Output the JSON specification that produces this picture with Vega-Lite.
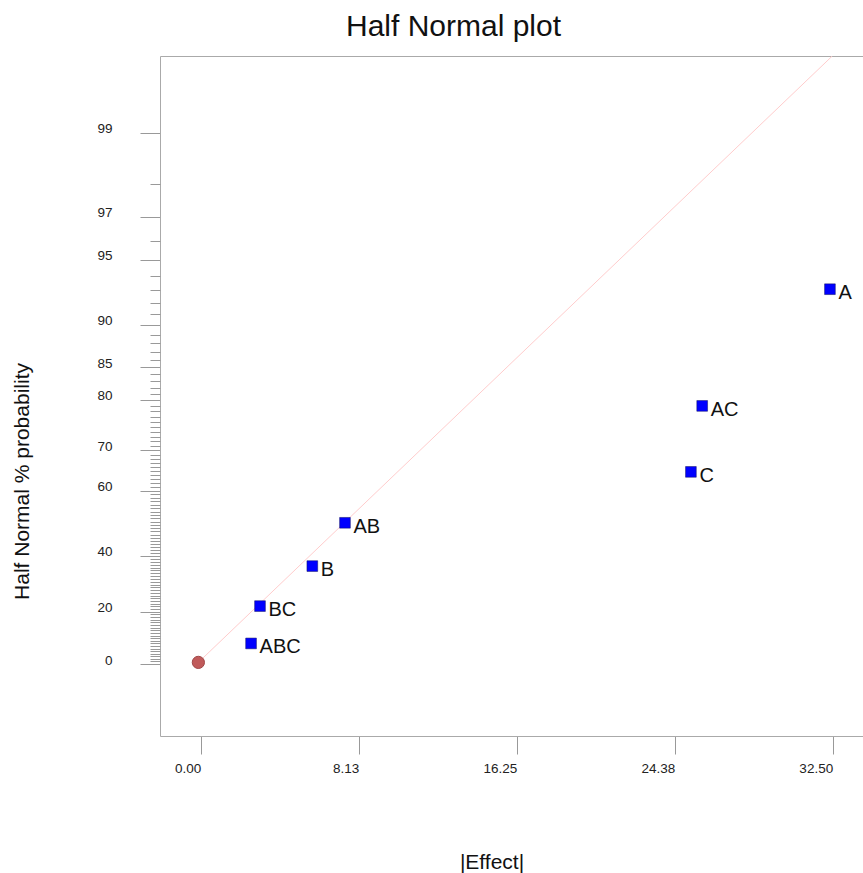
{
  "$schema": "https://vega.github.io/schema/vega-lite/v6.json",
  "autosize": {"type": "none"},
  "padding": {"left": 160, "top": 56, "right": 0, "bottom": 137},
  "width": 703,
  "height": 680,
  "background": "white",
  "view": {"stroke": null},
  "config": {
    "font": "Liberation Sans",
    "axis": {"grid": false, "domainColor": "#aaaaaa", "tickColor": "#999999", "labelColor": "#222222", "titleColor": "#111111", "titleFontWeight": "normal", "labelFont": "Liberation Sans", "titleFont": "Liberation Sans"}
  },
  "title": {
    "text": "Half Normal plot",
    "font": "Liberation Sans",
    "fontSize": 30,
    "fontWeight": "normal",
    "color": "#111111",
    "anchor": "middle",
    "frame": "group",
    "dx": -58,
    "offset": 14
  },
  "datasets": {
    "effects": [
      {"term": "A", "effect": 32.36, "z": 1.818},
      {"term": "AC", "effect": 25.79, "z": 1.252},
      {"term": "C", "effect": 25.21, "z": 0.932},
      {"term": "AB", "effect": 7.42, "z": 0.685},
      {"term": "B", "effect": 5.74, "z": 0.475},
      {"term": "BC", "effect": 3.05, "z": 0.281},
      {"term": "ABC", "effect": 2.59, "z": 0.1}
    ],
    "origin": [
      {"effect": -0.12, "z": 0.008}
    ],
    "fit": [
      {"effect": -0.12, "z": 0.008},
      {"effect": 32.48, "z": 2.949}
    ]
  },
  "resolve": {"axis": {"x": "independent", "y": "independent"}},
  "layer": [
    {
      "data": {"name": "fit"},
      "mark": {"type": "line", "color": "#ffcccc", "strokeWidth": 1, "clip": true},
      "encoding": {
        "x": {
          "field": "effect", "type": "quantitative",
          "scale": {"domain": [-2.093, 34.06], "nice": false, "zero": false},
          "axis": {"orient": "top", "domain": true, "ticks": false, "labels": false, "title": null}
        },
        "y": {
          "field": "z", "type": "quantitative",
          "scale": {"domain": [-0.349, 2.949], "nice": false, "zero": false},
          "axis": {
            "orient": "left",
            "values": [0, 0.2533, 0.5244, 0.8416, 1.0364, 1.2816, 1.4395, 1.6449, 1.96, 2.1701, 2.5758],
            "labelExpr": "format(round(100*(2*cumulativeNormal(datum.value)-1)),'d')",
            "tickSize": 20,
            "domain": true,
            "labelAlign": "right",
            "labelBaseline": "alphabetic",
            "labelPadding": 28,
            "labelFontSize": 13.5,
            "title": "Half Normal % probability",
            "titleFontSize": 21,
            "titleAngle": -90,
            "titleX": -138,
            "titleY": 425,
            "titleAlign": "center",
            "titleBaseline": "middle"
          }
        }
      }
    },
    {
      "data": {"name": "origin"},
      "mark": {"type": "point", "shape": "circle", "filled": true, "color": "#c05a5a", "stroke": "#a04848", "strokeWidth": 1, "size": 150, "opacity": 1},
      "encoding": {
        "x": {"field": "effect", "type": "quantitative", "scale": {"domain": [-2.093, 34.06], "nice": false, "zero": false}, "axis": null},
        "y": {"field": "z", "type": "quantitative", "scale": {"domain": [-0.349, 2.949], "nice": false, "zero": false}, "axis": null}
      }
    },
    {
      "data": {"name": "effects"},
      "mark": {"type": "square", "filled": true, "color": "#0000ff", "stroke": "#101060", "strokeWidth": 0.5, "size": 115, "opacity": 1},
      "encoding": {
        "x": {
          "field": "effect", "type": "quantitative",
          "scale": {"domain": [-2.093, 34.06], "nice": false, "zero": false},
          "axis": {
            "orient": "bottom",
            "values": [0, 8.125, 16.25, 24.375, 32.5],
            "format": ".2f",
            "tickSize": 18,
            "labelAlign": "right",
            "labelPadding": 7,
            "labelFontSize": 13.5,
            "title": "|Effect|",
            "titleFontSize": 21,
            "titleX": 331.5,
            "titleY": 126,
            "titleAlign": "center",
            "titleBaseline": "middle"
          }
        },
        "y": {
          "field": "z", "type": "quantitative",
          "scale": {"domain": [-0.349, 2.949], "nice": false, "zero": false},
          "axis": {
            "orient": "left",
            "values": [0.0125, 0.0251, 0.0376, 0.0502, 0.0627, 0.0753, 0.0878, 0.1004, 0.113, 0.1257, 0.1383, 0.151, 0.1637, 0.1764, 0.1891, 0.2019, 0.2147, 0.2275, 0.2404, 0.2663, 0.2793, 0.2924, 0.3055, 0.3186, 0.3319, 0.3451, 0.3585, 0.3719, 0.3853, 0.3989, 0.4125, 0.4261, 0.4399, 0.4538, 0.4677, 0.4817, 0.4959, 0.5101, 0.5388, 0.5534, 0.5681, 0.5828, 0.5978, 0.6128, 0.628, 0.6433, 0.6588, 0.6745, 0.6903, 0.7063, 0.7225, 0.7388, 0.7554, 0.7722, 0.7892, 0.8064, 0.8239, 0.8596, 0.8779, 0.8965, 0.9154, 0.9346, 0.9542, 0.9741, 0.9945, 1.0152, 1.0581, 1.0803, 1.1031, 1.1264, 1.1503, 1.175, 1.2004, 1.2265, 1.2536, 1.3106, 1.3408, 1.3722, 1.4051, 1.4758, 1.5141, 1.5548, 1.5982, 1.6954, 1.7507, 1.8119, 1.8808, 2.0537, 2.3263],
            "tickSize": 10,
            "domain": false,
            "labels": false,
            "title": null
          }
        }
      }
    },
    {
      "data": {"name": "effects"},
      "mark": {"type": "text", "align": "left", "baseline": "middle", "dx": 8.5, "dy": 4, "fontSize": 20, "font": "Liberation Sans", "color": "#111111"},
      "encoding": {
        "x": {"field": "effect", "type": "quantitative", "scale": {"domain": [-2.093, 34.06], "nice": false, "zero": false}, "axis": null},
        "y": {"field": "z", "type": "quantitative", "scale": {"domain": [-0.349, 2.949], "nice": false, "zero": false}, "axis": null},
        "text": {"field": "term", "type": "nominal"}
      }
    }
  ]
}
